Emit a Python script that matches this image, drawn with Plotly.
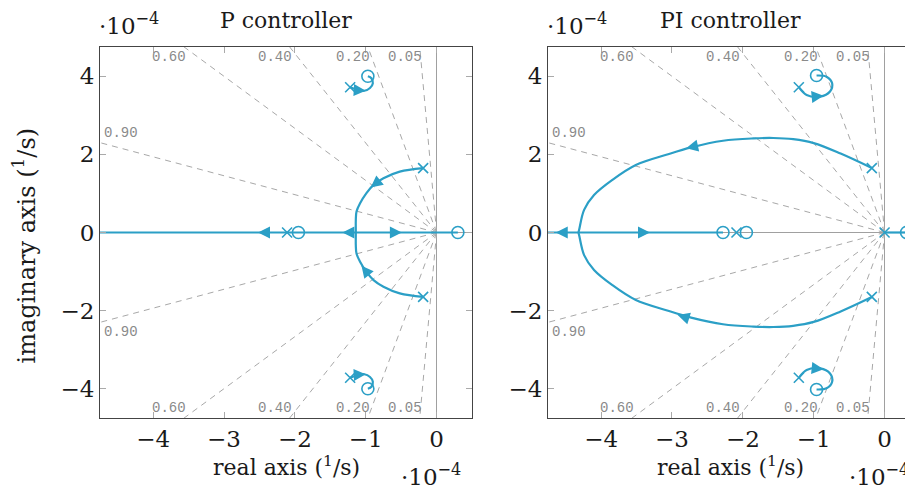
import math
import plotly.graph_objects as go

BLUE = "#2b9fc6"
GRID = "#a8a8a8"
SERIF = "DejaVu Serif"

# ---------------- data ----------------
zeta = [0.05, 0.20, 0.40, 0.60, 0.90]
zeta_labels = ["0.05", "0.20", "0.40", "0.60", "0.90"]
x_ticks = [-4, -3, -2, -1, 0]
y_ticks = [-4, -2, 0, 2, 4]

# P controller
p_poles_x = [-0.19, -0.19, -2.11, -1.22, -1.22]
p_poles_y = [1.65, -1.65, 0.0, 3.72, -3.72]
p_zeros_x = [-1.95, 0.30, -0.97, -0.97]
p_zeros_y = [0.0, 0.0, 4.00, -4.00]
p_branch_x = [-0.19, -0.52, -0.75, -0.89, -0.99, -1.08, -1.13, -1.14, -1.14, -1.14]
p_branch_y = [1.65, 1.56, 1.39, 1.22, 1.01, 0.75, 0.54, 0.32, 0.07, 0.0]
p_loop_x = [-1.22, -1.12, -1.02, -0.94, -0.90, -0.92, -0.97]
p_loop_y = [3.72, 3.66, 3.63, 3.70, 3.82, 3.95, 4.00]
p_real_x = [-5.0, 0.30]
p_arrows = [  # tail x, tail y, head x, head y
    (-0.82, 1.31, -0.93, 1.15),
    (-0.98, -1.03, -1.06, -0.85),
    (-2.40, 0.0, -2.52, 0.0),
    (-1.21, 0.0, -1.33, 0.0),
    (-0.61, 0.0, -0.49, 0.0),
    (-1.10, 3.64, -1.00, 3.63),
    (-1.10, -3.64, -1.00, -3.63),
]

# PI controller
pi_poles_x = [-0.18, -0.18, -2.09, 0.0, -1.21, -1.21]
pi_poles_y = [1.65, -1.65, 0.0, 0.0, 3.72, -3.72]
pi_zeros_x = [-2.28, -1.95, 0.31, -0.96, -0.96]
pi_zeros_y = [0.0, 0.0, 0.0, 4.02, -4.02]
pi_branch_x = [-0.18, -0.62, -1.00, -1.29, -1.57, -1.85, -2.28, -2.73, -3.08, -3.51, -3.84, -4.10, -4.24, -4.31, -4.32]
pi_branch_y = [1.65, 2.02, 2.29, 2.39, 2.42, 2.41, 2.35, 2.18, 1.99, 1.73, 1.35, 0.96, 0.58, 0.07, 0.0]
pi_loop_x = [-1.21, -1.10, -0.91, -0.77, -0.74, -0.82, -0.96]
pi_loop_y = [3.72, 3.52, 3.48, 3.61, 3.82, 3.99, 4.02]
pi_real_segments = [([-5.0, -2.28], [0.0, 0.0]), ([0.0, 0.31], [0.0, 0.0])]
pi_arrows = [
    (-2.65, 2.22, -2.80, 2.16),
    (-2.78, -2.19, -2.92, -2.11),
    (-4.52, 0.0, -4.64, 0.0),
    (-3.43, 0.0, -3.31, 0.0),
    (-0.97, 3.48, -0.86, 3.50),
    (-0.97, -3.48, -0.86, -3.50),
]

XR1 = [-4.75, 0.5]
XR2 = [-4.75, 0.401]
YR = [-4.75, 4.75]

fig = go.Figure()
annotations = []
zfont = dict(family="Liberation Mono", size=14, color="#8a8a8a")


def add_panel(xa, ya, poles, zeros, branch, loop, real_segs, arrows):
    # damping ratio guide lines
    for z, lab in zip(zeta, zeta_labels):
        s = math.sqrt(1 - z * z)
        for sign in (1, -1):
            fig.add_trace(go.Scatter(x=[0, -10 * z], y=[0, sign * 10 * s], mode="lines",
                                     line=dict(color=GRID, width=1, dash="6px,5px"),
                                     xaxis=xa, yaxis=ya, hoverinfo="skip", showlegend=False))
            x_top = YR[1] * z / s
            if x_top < -XR1[0]:
                annotations.append(dict(x=-x_top, y=sign * YR[1], xref=xa, yref=ya,
                                        text=lab, showarrow=False, xanchor="right",
                                        yanchor="top" if sign > 0 else "bottom",
                                        xshift=4, font=zfont))
            else:
                y_left = -XR1[0] * s / z
                annotations.append(dict(x=XR1[0], y=sign * y_left, xref=xa, yref=ya,
                                        text=lab, showarrow=False, xanchor="left",
                                        yanchor="bottom" if sign > 0 else "top",
                                        xshift=2, font=zfont))
    # real axis branches
    for sx, sy in real_segs:
        fig.add_trace(go.Scatter(x=sx, y=sy, mode="lines", line=dict(color=BLUE, width=2.2),
                                 xaxis=xa, yaxis=ya, hoverinfo="skip", showlegend=False))
    # complex branches, mirrored about the real axis
    for bx, by in (branch, loop):
        for sign in (1, -1):
            fig.add_trace(go.Scatter(x=bx, y=[sign * v for v in by], mode="lines",
                                     line=dict(color=BLUE, width=2.2, shape="spline"),
                                     xaxis=xa, yaxis=ya, hoverinfo="skip", showlegend=False))
    fig.add_trace(go.Scatter(x=poles[0], y=poles[1], mode="markers",
                             marker=dict(symbol="x-thin-open", size=10, color=BLUE,
                                         line=dict(color=BLUE, width=1.6)),
                             xaxis=xa, yaxis=ya, hoverinfo="skip", showlegend=False))
    fig.add_trace(go.Scatter(x=zeros[0], y=zeros[1], mode="markers",
                             marker=dict(symbol="circle-open", size=12, color=BLUE,
                                         line=dict(color=BLUE, width=1.6)),
                             xaxis=xa, yaxis=ya, hoverinfo="skip", showlegend=False))
    for (xt, yt, xh, yh) in arrows:
        annotations.append(dict(x=xh, y=yh, ax=xt, ay=yt, xref=xa, yref=ya, axref=xa, ayref=ya,
                                text="", showarrow=True, arrowhead=2, arrowsize=1.2, arrowwidth=2,
                                arrowcolor=BLUE, standoff=0, startstandoff=0))


add_panel("x", "y", (p_poles_x, p_poles_y), (p_zeros_x, p_zeros_y),
          (p_branch_x, p_branch_y), (p_loop_x, p_loop_y), [(p_real_x, [0.0, 0.0])], p_arrows)
add_panel("x2", "y2", (pi_poles_x, pi_poles_y), (pi_zeros_x, pi_zeros_y),
          (pi_branch_x, pi_branch_y), (pi_loop_x, pi_loop_y), pi_real_segments, pi_arrows)

tickfont = dict(family=SERIF, size=23, color="#1a1a1a")
common = dict(showline=True, linecolor="#444", linewidth=1, mirror="ticks", ticks="inside",
              ticklen=6, tickcolor="#aaa", showgrid=False, zeroline=True, zerolinecolor="#a0a0a0",
              zerolinewidth=1, tickfont=tickfont, automargin=False)

# page body has an 8px margin: figure is sized to end exactly at the window edge
fig.update_layout(
    width=905, height=485,
    margin=dict(l=92, r=0, t=39, b=75),
    paper_bgcolor="white", plot_bgcolor="white",
    xaxis=dict(domain=[0, 0.4576], range=XR1, tickvals=x_ticks, anchor="y", **common),
    yaxis=dict(domain=[0, 1], range=YR, tickvals=y_ticks, anchor="x", **common),
    xaxis2=dict(domain=[0.551, 1], range=XR2, tickvals=x_ticks, anchor="y2", **common),
    yaxis2=dict(domain=[0, 1], range=YR, tickvals=y_ticks, anchor="x2", **common),
    showlegend=False,
)

tfont = dict(family=SERIF, size=22, color="#1a1a1a")
mfont = dict(family=SERIF, size=23, color="#1a1a1a")
lfont = dict(family=SERIF, size=22, color="#1a1a1a")
yfont = dict(family=SERIF, size=24, color="#1a1a1a")
annotations += [
    dict(text="P controller", x=0.2288, y=1, xref="paper", yref="paper", xanchor="center",
         yanchor="middle", yshift=27, showarrow=False, font=tfont),
    dict(text="PI controller", x=0.775, y=1, xref="paper", yref="paper", xanchor="center",
         yanchor="middle", yshift=27, showarrow=False, font=tfont),
    dict(text="·10<sup>−4</sup>", x=-0.004, y=1, xref="paper", yref="paper", xanchor="left",
         yanchor="middle", yshift=23, showarrow=False, font=mfont),
    dict(text="·10<sup>−4</sup>", x=0.547, y=1, xref="paper", yref="paper", xanchor="left",
         yanchor="middle", yshift=23, showarrow=False, font=mfont),
    dict(text="·10<sup>−4</sup>", x=0.4465, y=0, xref="paper", yref="paper", xanchor="right",
         yanchor="bottom", yshift=-74, showarrow=False, font=mfont),
    dict(text="·10<sup>−4</sup>", x=0.9975, y=0, xref="paper", yref="paper", xanchor="right",
         yanchor="bottom", yshift=-74, showarrow=False, font=mfont),
    dict(text="real axis (<sup>1</sup>/s)", x=0.2288, y=0, xref="paper", yref="paper", xanchor="center",
         yanchor="top", yshift=-32, showarrow=False, font=lfont),
    dict(text="real axis (<sup>1</sup>/s)", x=0.775, y=0, xref="paper", yref="paper", xanchor="center",
         yanchor="top", yshift=-32, showarrow=False, font=lfont),
    dict(text="imaginary axis (<sup>1</sup>/s)", x=-0.0923, y=0.465, xref="paper", yref="paper",
         xanchor="center", yanchor="middle", textangle=-90, showarrow=False, font=yfont),
]
fig.update_layout(annotations=annotations)

fig.write_html("out.html")
